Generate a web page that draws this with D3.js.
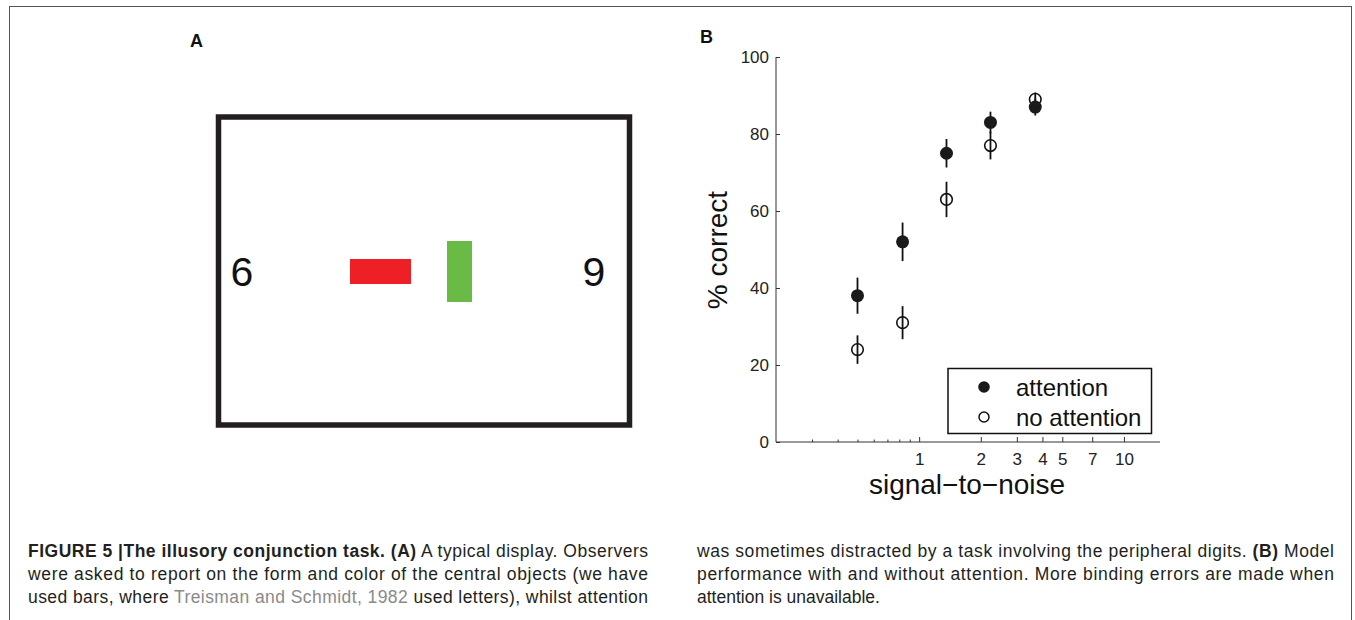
<!DOCTYPE html>
<html><head><meta charset="utf-8">
<script src="https://cdn.jsdelivr.net/npm/d3@7"></script>
<style>html,body{margin:0;padding:0;background:#fff;}svg{display:block;font-family:"Liberation Sans",Arial,Helvetica,sans-serif;}</style>
</head><body>
<svg id="fig" width="1355" height="620"></svg>
<script>
// ---- data ----
const snr = [0.5, 0.83, 1.36, 2.23, 3.69];
const attention = [38, 52, 75, 83, 87];
const attentionErr = [4.7, 5.0, 3.7, 2.8, 2.2];
const noAttention = [24, 31, 63, 77, 89];
const noAttentionErr = [3.7, 4.3, 4.6, 3.6, 1.8];
const yTicks = [0, 20, 40, 60, 80, 100];
const xMajorTicks = [1, 2, 3, 4, 5, 7, 10];
const xMinorTicks = [0.3, 0.4, 0.5, 0.6, 0.7, 0.8, 0.9];
const legendLabels = ["attention", "no attention"];
const digits = ["6", "9"];
const captionLeft = [
  [{t:"FIGURE 5 |The illusory conjunction task. (A)", b:true}, {t:" A typical display. Observers"}],
  [{t:"were asked to report on the form and color of the central objects (we have"}],
  [{t:"used bars, where "}, {t:"Treisman and Schmidt, 1982", g:true}, {t:" used letters), whilst attention"}]
];
const captionRight = [
  [{t:"was sometimes distracted by a task involving the peripheral digits. "}, {t:"(B)", b:true}, {t:" Model"}],
  [{t:"performance with and without attention. More binding errors are made when"}],
  [{t:"attention is unavailable."}]
];

const svg = d3.select("#fig");

// frame
svg.append("rect").attr("x", 9.5).attr("y", 6.5).attr("width", 1342).attr("height", 700)
  .attr("fill", "none").attr("stroke", "#555").attr("stroke-width", 1);

// ---- Panel A ----
svg.append("text").attr("x", 190).attr("y", 47).attr("font-weight", "bold").attr("font-size", 18).attr("fill", "#111").text("A");
svg.append("rect").attr("x", 218.5).attr("y", 117).attr("width", 411).attr("height", 308)
  .attr("fill", "none").attr("stroke", "#231f20").attr("stroke-width", 5.5);
svg.append("rect").attr("x", 350).attr("y", 259).attr("width", 61).attr("height", 25).attr("fill", "#ee1f25");
svg.append("rect").attr("x", 447).attr("y", 241).attr("width", 25).attr("height", 61).attr("fill", "#6abb45");
svg.selectAll("text.digit").data(digits).join("text").attr("class", "digit")
  .attr("x", (d, i) => i === 0 ? 242 : 594).attr("y", 285.5)
  .attr("text-anchor", "middle").attr("font-size", 41).attr("fill", "#111").text(d => d);

// ---- Panel B ----
svg.append("text").attr("x", 700).attr("y", 43).attr("font-weight", "bold").attr("font-size", 18).attr("fill", "#111").text("B");

const x = d3.scaleLog().domain([0.2, 15]).range([776, 1160]);
const y = d3.scaleLinear().domain([0, 100]).range([442, 57]);
const axisColor = "#333";

// y axis
const yAxis = svg.append("g").attr("transform", "translate(776,0)")
  .call(d3.axisLeft(y).tickValues(yTicks).tickSize(-4).tickPadding(7).tickFormat(d3.format("d")));
yAxis.select(".domain").attr("stroke", axisColor).attr("d", `M0,${y(100)}V${y(0)}`);
yAxis.selectAll(".tick line").attr("stroke", axisColor);
yAxis.selectAll(".tick text").attr("font-size", 17).attr("fill", "#222").attr("font-family", "Liberation Sans, Arial, sans-serif");

// x axis
const xAxis = svg.append("g").attr("transform", "translate(0,442)")
  .call(d3.axisBottom(x).tickValues(xMajorTicks).tickSize(-5).tickPadding(11).tickFormat(d3.format("d")));
xAxis.select(".domain").attr("stroke", axisColor).attr("d", `M${x(0.2)},0H${x(15)}`);
xAxis.selectAll(".tick line").attr("stroke", axisColor);
xAxis.selectAll(".tick text").attr("font-size", 17).attr("fill", "#222").attr("font-family", "Liberation Sans, Arial, sans-serif");
const xMinor = svg.append("g").attr("transform", "translate(0,442)")
  .call(d3.axisBottom(x).tickValues(xMinorTicks).tickSize(-2.5).tickFormat(""));
xMinor.select(".domain").remove();
xMinor.selectAll(".tick line").attr("stroke", axisColor);

// axis labels
svg.append("text").attr("x", 967).attr("y", 494).attr("text-anchor", "middle")
  .attr("font-size", 28).attr("fill", "#111").text("signal\u2212to\u2212noise");
svg.append("text").attr("transform", "translate(727,250) rotate(-90)").attr("text-anchor", "middle")
  .attr("font-size", 28).attr("fill", "#111").text("% correct");

// data
const att = snr.map((s, i) => ({s, v: attention[i], e: attentionErr[i]}));
const noatt = snr.map((s, i) => ({s, v: noAttention[i], e: noAttentionErr[i]}));

svg.selectAll("circle.open").data(noatt).join("circle").attr("class", "open")
  .attr("cx", d => x(d.s)).attr("cy", d => y(d.v)).attr("r", 5.8)
  .attr("fill", "none").attr("stroke", "#111").attr("stroke-width", 1.6);
svg.selectAll("line.errN").data(noatt).join("line").attr("class", "errN")
  .attr("x1", d => x(d.s)).attr("x2", d => x(d.s))
  .attr("y1", d => y(d.v + d.e)).attr("y2", d => y(d.v - d.e))
  .attr("stroke", "#111").attr("stroke-width", 1.8);
svg.selectAll("line.errA").data(att).join("line").attr("class", "errA")
  .attr("x1", d => x(d.s)).attr("x2", d => x(d.s))
  .attr("y1", d => y(d.v + d.e)).attr("y2", d => y(d.v - d.e))
  .attr("stroke", "#111").attr("stroke-width", 1.8);
svg.selectAll("circle.filled").data(att).join("circle").attr("class", "filled")
  .attr("cx", d => x(d.s)).attr("cy", d => y(d.v)).attr("r", 6.5)
  .attr("fill", "#1a1a1a");

// legend
svg.append("rect").attr("x", 948).attr("y", 368.5).attr("width", 203.5).attr("height", 65)
  .attr("fill", "#fff").attr("stroke", "#111").attr("stroke-width", 1.5);
const lg = svg.selectAll("g.leg").data(legendLabels).join("g").attr("class", "leg")
  .attr("transform", (d, i) => `translate(984,${387 + i * 30})`);
lg.append("circle").attr("r", d => d === "attention" ? 5.8 : 5)
  .attr("fill", d => d === "attention" ? "#1a1a1a" : "none")
  .attr("stroke", d => d === "attention" ? "none" : "#111").attr("stroke-width", 1.5);
lg.append("text").attr("x", 32).attr("y", 8.5).attr("font-size", 24).attr("fill", "#111").text(d => d);

// caption (justified lines stretched to the column width)
function caption(lines, x0, width, nJustified) {
  lines.forEach((parts, i) => {
    const t = svg.append("text").attr("x", x0).attr("y", 557 + i * 23).attr("font-size", 17.5).attr("fill", "#231f20");
    if (i < nJustified) t.attr("textLength", width).attr("lengthAdjust", "spacing");
    parts.forEach(p => {
      t.append("tspan").attr("font-weight", p.b ? "bold" : null)
        .attr("fill", p.g ? "#8a8a8a" : null).attr("xml:space", "preserve").text(p.t);
    });
  });
}
caption(captionLeft, 28, 620, 3);
caption(captionRight, 697, 637, 2);
</script>
</body></html>
